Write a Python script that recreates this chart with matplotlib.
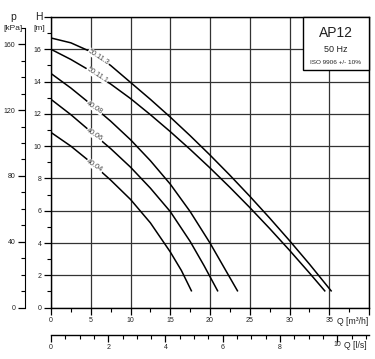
import matplotlib
matplotlib.use("Agg")
import matplotlib.pyplot as plt
from matplotlib.ticker import MultipleLocator, FixedLocator

plt.rcParams['font.family'] = ['Liberation Sans', 'DejaVu Sans']

# pump curves, Q in m3/h, H in m
q_50113 = [0, 2.5, 5, 7.5, 10, 12.5, 15, 17.5, 20, 22.5, 25, 27.5, 30, 32.5, 35.3]
h_50113 = [16.7, 16.4, 15.85, 15.0, 13.95, 12.9, 11.8, 10.65, 9.45, 8.2, 6.9, 5.55, 4.15, 2.7, 1.0]
q_50111 = [0, 2.5, 5, 7.5, 10, 12.5, 15, 17.5, 20, 22.5, 25, 27.5, 30, 32.5, 34.5]
h_50111 = [16.0, 15.37, 14.65, 13.85, 12.95, 11.95, 10.9, 9.8, 8.65, 7.45, 6.2, 4.9, 3.55, 2.15, 1.0]
q_4008 = [0, 2.5, 5, 7.5, 10, 12.5, 15, 17.5, 20, 21.75, 23.5]
h_4008 = [14.5, 13.6, 12.6, 11.55, 10.4, 9.1, 7.65, 5.95, 4.0, 2.5, 1.0]
q_4006 = [0, 2.5, 5, 7.5, 10, 12.5, 15, 17.5, 19.25, 21.0]
h_4006 = [12.9, 11.95, 10.9, 9.85, 8.7, 7.4, 5.95, 4.1, 2.6, 1.0]
q_4004 = [0, 2.5, 5, 7.5, 10, 12.5, 15, 16.4, 17.7]
h_4004 = [10.85, 10.0, 9.0, 7.9, 6.7, 5.25, 3.45, 2.3, 1.0]

curves = [("50.11.3", q_50113, h_50113),
          ("50.11.1", q_50111, h_50111),
          ("40.08", q_4008, h_4008),
          ("40.06", q_4006, h_4006),
          ("40.04", q_4004, h_4004)]

# where the curve names sit (Q)
label_q = [6.0, 5.8, 5.5, 5.5, 5.5]

txt = '#222222'
gridc = '#333333'

W, Hh = 375, 359
fig = plt.figure(figsize=(3.75, 3.59), dpi=100)
x0, x1, y0, y1 = 51, 369, 17, 307.6
ax = fig.add_axes([x0 / W, 1 - y1 / Hh, (x1 - x0) / W, (y1 - y0) / Hh])

ax.set_xlim(0, 40)
ax.set_ylim(0, 18)

for name, q, h in curves:
    ax.plot(q, h, color='black', lw=1.1, zorder=3, solid_capstyle='butt')

for (name, q, h), lq in zip(curves, label_q):
    # height of the curve at lq
    for i in range(len(q) - 1):
        if q[i] <= lq <= q[i + 1]:
            t = (lq - q[i]) / (q[i + 1] - q[i])
            lh = h[i] + t * (h[i + 1] - h[i])
            break
    ax.text(lq, lh, name, fontsize=5.2, color='#444444', rotation=-33,
            ha='center', va='center', zorder=4,
            bbox=dict(facecolor='white', edgecolor='none', pad=0.3))

ax.set_xticks(range(0, 45, 5))
ax.set_xticklabels([str(v) for v in range(0, 35, 5)] + ['', ''])
ax.xaxis.set_minor_locator(MultipleLocator(2.5))
ax.set_yticks(range(0, 19, 2))
ax.set_yticklabels([str(v) for v in range(0, 18, 2)] + [''])
ax.yaxis.set_minor_locator(MultipleLocator(1))
ax.grid(True, which='major', color=gridc, lw=0.9)
ax.set_axisbelow(True)
ax.tick_params(which='major', length=5, width=0.9, color='black', labelsize=5, labelcolor=txt, pad=2)
ax.tick_params(which='minor', length=3, width=0.8, color='black')
for s in ax.spines.values():
    s.set_color('black')
    s.set_linewidth(1.0)

# pressure axis
ax2 = ax.twinx()
ax2.set_ylim(0, 18 * 9.81)
ax2.yaxis.set_ticks_position('left')
ax2.yaxis.set_label_position('left')
ax2.spines['left'].set_position(('outward', 18.5))
ax2.spines['left'].set_bounds(0, 170)
for k in ['right', 'top', 'bottom']:
    ax2.spines[k].set_visible(False)
ax2.set_yticks([0, 40, 80, 120, 160])
ax2.yaxis.set_minor_locator(FixedLocator(range(0, 171, 10)))
ax2.tick_params(which='major', length=5, width=0.9, labelsize=5, labelcolor=txt, pad=2)
ax2.tick_params(which='minor', length=3, width=0.8)

# flow axis in l/s
sec = ax.secondary_xaxis(-(334.5 - y1) / (y1 - y0), functions=(lambda v: v / 3.6, lambda v: v * 3.6))
sec.set_xticks([0, 2, 4, 6, 8, 10])
sec.set_xticklabels(['0', '2', '4', '6', '8', ''])
sec.xaxis.set_minor_locator(MultipleLocator(0.5))
sec.tick_params(which='major', length=5, width=0.9, labelsize=5, labelcolor=txt, pad=2)
sec.tick_params(which='minor', length=3, width=0.8)
sec.spines['bottom'].set_linewidth(1.0)

# axis names
fig.text(13 / W, 1 - 17 / Hh, 'p', fontsize=7.5, color=txt, ha='center', va='center')
fig.text(13 / W, 1 - 29 / Hh, '[kPa]', fontsize=6, color=txt, ha='center', va='center')
fig.text(39 / W, 1 - 17 / Hh, 'H', fontsize=7.5, color=txt, ha='center', va='center')
fig.text(39 / W, 1 - 29 / Hh, '[m]', fontsize=6, color=txt, ha='center', va='center')
fig.text(330 / W, 1 - 320 / Hh, '35', fontsize=5, color=txt, ha='center', va='center')
fig.text(337 / W, 1 - 321 / Hh, 'Q [m³/h]', fontsize=6.2, color=txt, ha='left', va='center')
fig.text(337 / W, 1 - 344 / Hh, '10', fontsize=5, color=txt, ha='center', va='center')
fig.text(344 / W, 1 - 345 / Hh, 'Q [l/s]', fontsize=6.2, color=txt, ha='left', va='center')

# model box
box = plt.Rectangle((303 / W, 1 - 70 / Hh), (369 - 303) / W, (70 - 17) / Hh,
                    transform=fig.transFigure, facecolor='white', edgecolor='black',
                    lw=1.0, zorder=5)
fig.add_artist(box)
fig.text(336 / W, 1 - 33 / Hh, 'AP12', fontsize=10, color=txt, ha='center', va='center', zorder=6)
fig.text(336 / W, 1 - 49 / Hh, '50 Hz', fontsize=6.5, color=txt, ha='center', va='center', zorder=6)
fig.text(336 / W, 1 - 62 / Hh, 'ISO 9906 +/- 10%', fontsize=4.6, color=txt, ha='center', va='center', zorder=6)

fig.savefig('out.png', dpi=100, facecolor='white')
